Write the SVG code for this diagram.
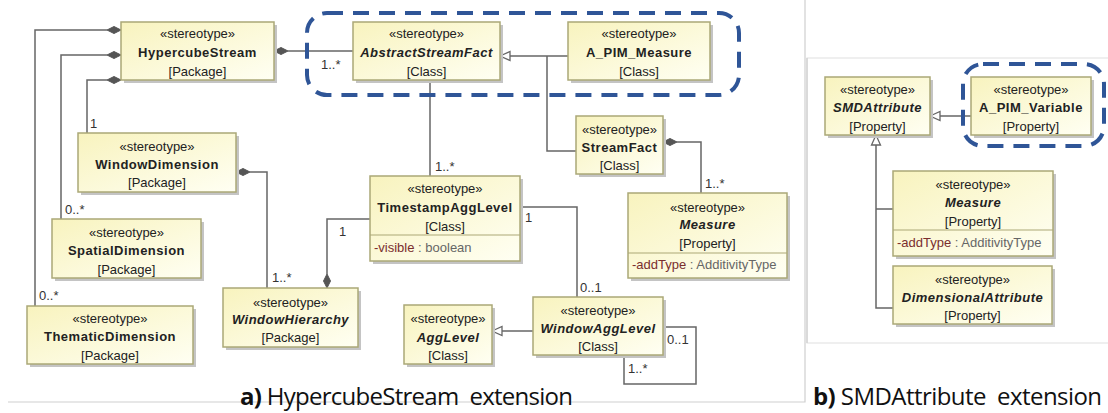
<svg xmlns="http://www.w3.org/2000/svg" width="1108" height="413" viewBox="0 0 1108 413">
<defs>
<linearGradient id="fill" x1="0" y1="0" x2="1" y2="1">
<stop offset="0" stop-color="#F8F3BE"/>
<stop offset="1" stop-color="#FFFFF3"/>
</linearGradient>
</defs>
<style>
.box{fill:url(#fill);stroke:#ABA877;stroke-width:1.5}
.sh{fill:#C4C4C4}
.sep{stroke:#ABA877;stroke-width:1.2}
text{font-family:"Liberation Sans",Arial,sans-serif;font-size:13px;fill:#222}
.c{text-anchor:middle}
.n{font-weight:bold;letter-spacing:0.5px}
.i{font-style:italic}
.lbl{fill:#333}
.attr{fill:#7A2E2E}
.typ{fill:#666}
.ln{fill:none;stroke:#666;stroke-width:1.5}
.dia{fill:#555;stroke:#555;stroke-width:1}
.tri{fill:#fff;stroke:#666;stroke-width:1.3}
.dash{fill:none;stroke:#2F5597;stroke-width:4;stroke-dasharray:16 10}
.frame{fill:none;stroke:#CFCFCF;stroke-width:1.2}
.cap{font-family:"Open Sans","Noto Sans",sans-serif;font-size:24px;fill:#111;white-space:pre}
</style>

<g id="frames">
<path class="frame" d="M8,402 H805 V0"/>
<path d="M1108,58 H807 V343 H1108" fill="none" stroke="#E0E0E0" stroke-width="1.2"/>
<path d="M807,58 V343" fill="none" stroke="#CFCFCF" stroke-width="1.2"/>
</g>

<g id="connectors">
<path class="ln" d="M107,30 H35 V306"/>
<polygon class="dia" points="121,30 114,26.5 107,30 114,33.5"/>
<path class="ln" d="M107,55 H61 V219"/>
<polygon class="dia" points="121,55 114,51.5 107,55 114,58.5"/>
<path class="ln" d="M107,80 H87 V133"/>
<polygon class="dia" points="121,80 114,76.5 107,80 114,83.5"/>
<path class="ln" d="M288,51 H353"/>
<polygon class="dia" points="274,51 281,47.5 288,51 281,54.5"/>
<path class="ln" d="M568,56 H510"/>
<path class="ln" d="M547,56 V151 H576"/>
<polygon class="tri" points="500,56 510,51.5 510,60.5"/>
<path class="ln" d="M430,80 V176"/>
<path class="ln" d="M250,172 H267 V288"/>
<polygon class="dia" points="236,172 243,168.5 250,172 243,175.5"/>
<path class="ln" d="M370,219 H327 V274"/>
<polygon class="dia" points="327,288 323.5,281 327,274 330.5,281"/>
<path class="ln" d="M677,142 H701 V193"/>
<polygon class="dia" points="663,142 670,138.5 677,142 670,145.5"/>
<path class="ln" d="M520,207 H577 V297"/>
<path class="ln" d="M533,331 H502"/>
<polygon class="tri" points="492,331 502,326.5 502,335.5"/>
<path class="ln" d="M663,327 H696 V384 H624 V355"/>
<path class="ln" d="M971,116 H940"/>
<polygon class="tri" points="930,116 940,111.5 940,120.5"/>
<path class="ln" d="M876,145 V308 H893 M876,209 H893"/>
<polygon class="tri" points="876,135 871.5,145 880.5,145"/>
<text class="lbl" x="90" y="128">1</text>
<text class="lbl" x="65" y="214">0..*</text>
<text class="lbl" x="39" y="300">0..*</text>
<text class="lbl" x="321" y="69">1..*</text>
<text class="lbl" x="272" y="282">1..*</text>
<text class="lbl" x="339" y="236">1</text>
<text class="lbl" x="435" y="171">1..*</text>
<text class="lbl" x="705" y="188">1..*</text>
<text class="lbl" x="525" y="222">1</text>
<text class="lbl" x="580" y="292">0..1</text>
<text class="lbl" x="667" y="344">0..1</text>
<text class="lbl" x="628" y="373">1..*</text>
</g>

<g id="highlights">
<rect class="dash" x="307" y="13" width="432" height="82" rx="20"/>
<rect class="dash" x="963" y="64" width="141" height="82" rx="20"/>
</g>

<g id="HypercubeStream">
<rect class="sh" x="124" y="25" width="153" height="58"/>
<rect class="box" x="121" y="22" width="153" height="58"/>
<text class="c" x="197.5" y="37.5">«stereotype»</text>
<text class="c n" x="197.5" y="56.5">HypercubeStream</text>
<text class="c" x="197.5" y="75.5">[Package]</text>
</g>

<g id="AbstractStreamFact">
<rect class="sh" x="356" y="25" width="147" height="58"/>
<rect class="box" x="353" y="22" width="147" height="58"/>
<text class="c" x="426.5" y="37.5">«stereotype»</text>
<text class="c n i" x="426.5" y="56.5">AbstractStreamFact</text>
<text class="c" x="426.5" y="75.5">[Class]</text>
</g>

<g id="A_PIM_Measure">
<rect class="sh" x="571" y="25" width="142" height="58"/>
<rect class="box" x="568" y="22" width="142" height="58"/>
<text class="c" x="639" y="37.5">«stereotype»</text>
<text class="c n" x="639" y="56.5">A_PIM_Measure</text>
<text class="c" x="639" y="75.5">[Class]</text>
</g>

<g id="WindowDimension">
<rect class="sh" x="81" y="136" width="158" height="59"/>
<rect class="box" x="78" y="133" width="158" height="59"/>
<text class="c" x="157" y="150.5">«stereotype»</text>
<text class="c n" x="157" y="168.5">WindowDimension</text>
<text class="c" x="157" y="186.5">[Package]</text>
</g>

<g id="SpatialDimension">
<rect class="sh" x="55" y="222" width="149" height="59"/>
<rect class="box" x="52" y="219" width="149" height="59"/>
<text class="c" x="126.5" y="236.5">«stereotype»</text>
<text class="c n" x="126.5" y="254.5">SpatialDimension</text>
<text class="c" x="126.5" y="273.5">[Package]</text>
</g>

<g id="ThematicDimension">
<rect class="sh" x="30" y="309" width="166" height="58"/>
<rect class="box" x="27" y="306" width="166" height="58"/>
<text class="c" x="110" y="322.5">«stereotype»</text>
<text class="c n" x="110" y="340.5">ThematicDimension</text>
<text class="c" x="110" y="359.5">[Package]</text>
</g>

<g id="WindowHierarchy">
<rect class="sh" x="226" y="291" width="135" height="59"/>
<rect class="box" x="223" y="288" width="135" height="59"/>
<text class="c" x="290.5" y="306.5">«stereotype»</text>
<text class="c n i" x="290.5" y="323.5">WindowHierarchy</text>
<text class="c" x="290.5" y="341.5">[Package]</text>
</g>

<g id="TimestampAggLevel">
<rect class="sh" x="373" y="179" width="150" height="85"/>
<rect class="box" x="370" y="176" width="150" height="85"/>
<line class="sep" x1="370" y1="235" x2="520" y2="235"/>
<text class="c" x="445" y="192.5">«stereotype»</text>
<text class="c n" x="445" y="211.5">TimestampAggLevel</text>
<text class="c" x="445" y="230.5">[Class]</text>
<text x="374" y="251.5"><tspan class="attr">-visible</tspan><tspan class="typ"> : boolean</tspan></text>
</g>

<g id="StreamFact">
<rect class="sh" x="579" y="119" width="87" height="58"/>
<rect class="box" x="576" y="116" width="87" height="58"/>
<text class="c" x="619.5" y="133.5">«stereotype»</text>
<text class="c n" x="619.5" y="151.5">StreamFact</text>
<text class="c" x="619.5" y="169.5">[Class]</text>
</g>

<g id="MeasureA">
<rect class="sh" x="631" y="196" width="159" height="85"/>
<rect class="box" x="628" y="193" width="159" height="85"/>
<line class="sep" x1="628" y1="253" x2="787" y2="253"/>
<text class="c" x="707.5" y="211.5">«stereotype»</text>
<text class="c n i" x="707.5" y="228.5">Measure</text>
<text class="c" x="707.5" y="247.5">[Property]</text>
<text x="632" y="268.5"><tspan class="attr">-addType</tspan><tspan class="typ"> : AdditivityType</tspan></text>
</g>

<g id="WindowAggLevel">
<rect class="sh" x="536" y="300" width="130" height="58"/>
<rect class="box" x="533" y="297" width="130" height="58"/>
<text class="c" x="598" y="314.5">«stereotype»</text>
<text class="c n i" x="598" y="332.5">WindowAggLevel</text>
<text class="c" x="598" y="350.5">[Class]</text>
</g>

<g id="AggLevel">
<rect class="sh" x="407" y="308" width="88" height="59"/>
<rect class="box" x="404" y="305" width="88" height="59"/>
<text class="c" x="448" y="322.5">«stereotype»</text>
<text class="c n i" x="448" y="341.5">AggLevel</text>
<text class="c" x="448" y="359.5">[Class]</text>
</g>

<g id="SMDAttribute">
<rect class="sh" x="828" y="80" width="105" height="58"/>
<rect class="box" x="825" y="77" width="105" height="58"/>
<text class="c" x="877.5" y="93.5">«stereotype»</text>
<text class="c n i" x="877.5" y="111.5">SMDAttribute</text>
<text class="c" x="877.5" y="130.5">[Property]</text>
</g>

<g id="A_PIM_Variable">
<rect class="sh" x="974" y="80" width="120" height="58"/>
<rect class="box" x="971" y="77" width="120" height="58"/>
<text class="c" x="1031" y="93.5">«stereotype»</text>
<text class="c n" x="1031" y="111.5">A_PIM_Variable</text>
<text class="c" x="1031" y="130.5">[Property]</text>
</g>

<g id="MeasureB">
<rect class="sh" x="896" y="174" width="160" height="85"/>
<rect class="box" x="893" y="171" width="160" height="85"/>
<line class="sep" x1="893" y1="230" x2="1053" y2="230"/>
<text class="c" x="973" y="188.5">«stereotype»</text>
<text class="c n i" x="973" y="206.5">Measure</text>
<text class="c" x="973" y="225.5">[Property]</text>
<text x="897" y="246.5"><tspan class="attr">-addType</tspan><tspan class="typ"> : AdditivityType</tspan></text>
</g>

<g id="DimensionalAttribute">
<rect class="sh" x="896" y="269" width="159" height="58"/>
<rect class="box" x="893" y="266" width="159" height="58"/>
<text class="c" x="972.5" y="283.5">«stereotype»</text>
<text class="c n i" x="972.5" y="301.5">DimensionalAttribute</text>
<text class="c" x="972.5" y="319.5">[Property]</text>
</g>

<g id="captions">
<text class="cap" x="240" y="405" textLength="333" lengthAdjust="spacing" xml:space="preserve"><tspan font-weight="bold">a)</tspan> HypercubeStream  extension</text>
<text class="cap" x="813" y="405" textLength="289" lengthAdjust="spacing" xml:space="preserve"><tspan font-weight="bold">b)</tspan> SMDAttribute  extension</text>
</g>
</svg>
